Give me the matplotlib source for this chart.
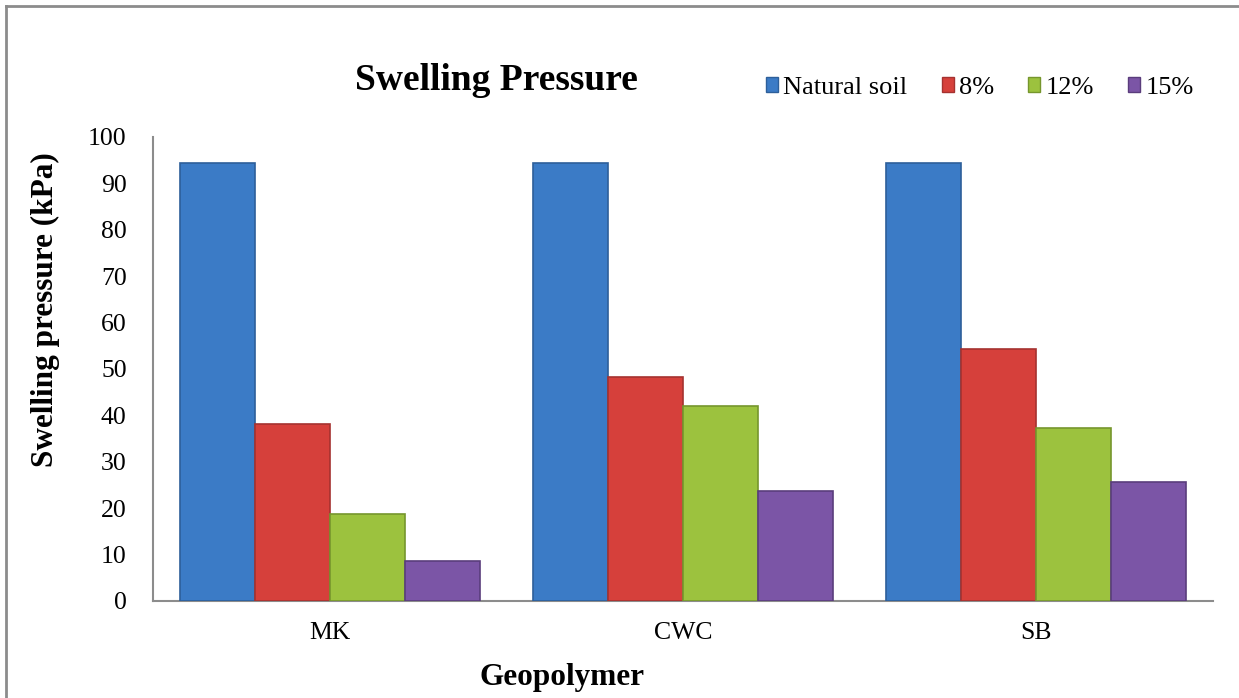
import numpy as np
import matplotlib.pyplot as plt
from matplotlib.lines import Line2D

plt.rcParams['font.family'] = ['Liberation Serif', 'DejaVu Serif']

categories = ['MK', 'CWC', 'SB']
series = ['Natural soil', '8%', '12%', '15%']
natural = [94.3, 94.3, 94.3]
p8 = [38.1, 48.2, 54.2]
p12 = [18.7, 42.1, 37.2]
p15 = [8.6, 23.7, 25.6]
values = [natural, p8, p12, p15]
colors = ['#3b7bc6', '#d6403b', '#9cc23e', '#7b55a6']
edges = ['#2d5f9a', '#a53230', '#76962d', '#5a3d7c']

fig = plt.figure(figsize=(12.39, 6.98), dpi=100)
ax = fig.add_axes([0.1235, 0.139, 0.8555, 0.665])

x = np.arange(len(categories))
w = 0.85 / 4
for i, (vals, c, ec) in enumerate(zip(values, colors, edges)):
    ax.bar(x - 0.425 + w * (i + 0.5), vals, w, color=c, edgecolor=ec,
           linewidth=1.2, label=series[i], zorder=3)

ax.set_xlim(-0.5, 2.5)
ax.set_ylim(0, 100)
ax.set_yticks(range(0, 101, 10))
ax.set_xticks(x)
ax.set_xticklabels(categories)
ax.tick_params(axis='both', labelsize=18.5, length=0)
ax.tick_params(axis='y', pad=19)
ax.tick_params(axis='x', pad=15)
for s in ['top', 'right']:
    ax.spines[s].set_visible(False)
for s in ['left', 'bottom']:
    ax.spines[s].set_color('#8c8c8c')
    ax.spines[s].set_linewidth(1.5)

ax.set_ylabel('Swelling pressure (kPa)', fontsize=22.5, fontweight='bold',
              labelpad=20, y=0.627)
ax.set_xlabel('Geopolymer', fontsize=22.5, fontweight='bold', labelpad=14, x=0.386)
fig.text(0.401, 0.884, 'Swelling Pressure', fontsize=27, fontweight='bold',
         ha='center', va='center')

handles = [plt.Rectangle((0, 0), 1, 1, color=c, ec=ec) for c, ec in zip(colors, edges)]
fig.legend(handles, series, loc='center right', bbox_to_anchor=(0.9825, 0.874),
           ncol=4, frameon=False, fontsize=19, handlelength=0.45, handleheight=0.45,
           handletextpad=0.2, columnspacing=1.3)

# outer frame (left and top edges visible)
fig.add_artist(Line2D([6 / 1239, 6 / 1239], [0, 1 - 6 / 698], color='#8c8c8c', lw=2,
                      transform=fig.transFigure))
fig.add_artist(Line2D([6 / 1239, 1], [1 - 6 / 698, 1 - 6 / 698], color='#8c8c8c', lw=2,
                      transform=fig.transFigure))

fig.savefig('out.png', dpi=100)
